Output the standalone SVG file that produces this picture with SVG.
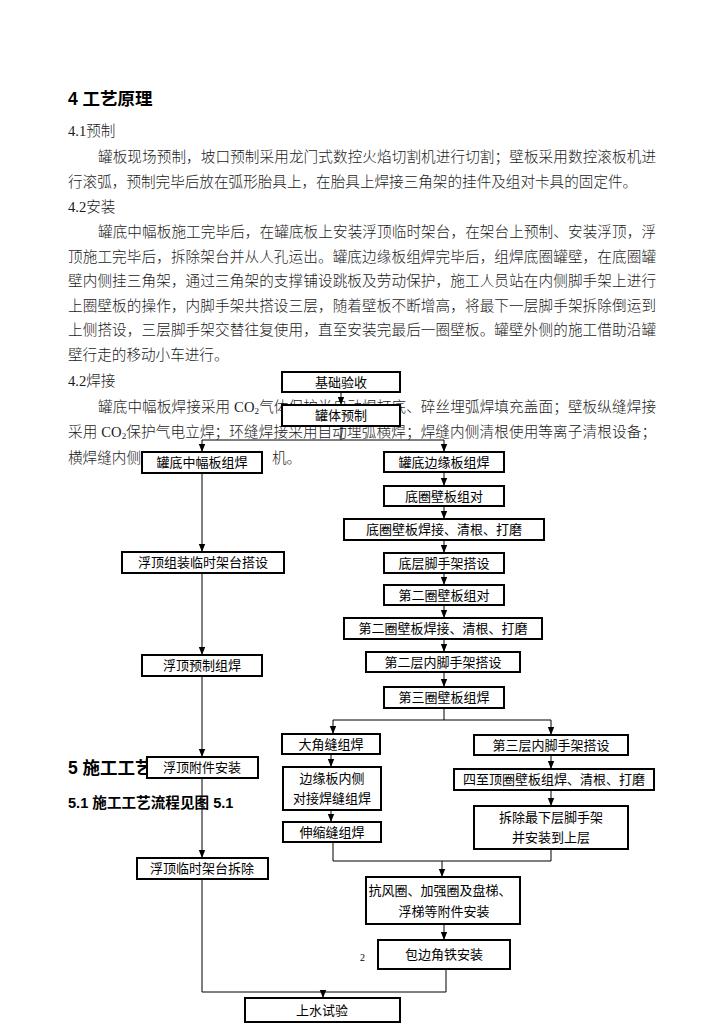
<svg xmlns="http://www.w3.org/2000/svg" width="724" height="1024" viewBox="0 0 724 1024">
<defs>
<style>
.body{font-family:"Liberation Serif","Noto Sans CJK SC",serif;font-size:14.6px;fill:#1a1a1a;font-weight:300}
.h{font-family:"Liberation Sans","Noto Sans CJK SC",sans-serif;font-weight:bold;fill:#000}
.box rect{fill:#fff;stroke:#000;stroke-width:2}
.box text{font-family:"Noto Sans CJK SC","Liberation Sans",sans-serif;font-size:13px;fill:#000;text-anchor:middle}
.conn path{fill:none;stroke:#000;stroke-width:1}
.pg{font-family:"Liberation Serif",serif;font-size:10px;fill:#000}
</style>
<marker id="arr" markerUnits="userSpaceOnUse" markerWidth="8" markerHeight="8" viewBox="0 0 8 8" refX="8" refY="4" orient="auto">
<path d="M0,0.8 L8,4 L0,7.2 Z" fill="#000"/>
</marker>
</defs>
<rect width="724" height="1024" fill="#fff"/>

<g id="text">
<text class="h" x="68" y="105" font-size="17.5">4 工艺原理</text>
<text class="body" x="68" y="136">4.1预制</text>
<text class="body" x="98" y="162" textLength="558" lengthAdjust="spacing">罐板现场预制，坡口预制采用龙门式数控火焰切割机进行切割；壁板采用数控滚板机进</text>
<text class="body" x="68" y="187">行滚弧，预制完毕后放在弧形胎具上，在胎具上焊接三角架的挂件及组对卡具的固定件。</text>
<text class="body" x="68" y="212">4.2安装</text>
<text class="body" x="98" y="237" textLength="558" lengthAdjust="spacing">罐底中幅板施工完毕后，在罐底板上安装浮顶临时架台，在架台上预制、安装浮顶，浮</text>
<text class="body" x="68" y="262" textLength="588" lengthAdjust="spacing">顶施工完毕后，拆除架台并从人孔运出。罐底边缘板组焊完毕后，组焊底圈罐壁，在底圈罐</text>
<text class="body" x="68" y="286" textLength="588" lengthAdjust="spacing">壁内侧挂三角架，通过三角架的支撑铺设跳板及劳动保护，施工人员站在内侧脚手架上进行</text>
<text class="body" x="68" y="311" textLength="588" lengthAdjust="spacing">上圈壁板的操作，内脚手架共搭设三层，随着壁板不断增高，将最下一层脚手架拆除倒运到</text>
<text class="body" x="68" y="335" textLength="588" lengthAdjust="spacing">上侧搭设，三层脚手架交替往复使用，直至安装完最后一圈壁板。罐壁外侧的施工借助沿罐</text>
<text class="body" x="68" y="360">壁行走的移动小车进行。</text>
<text class="body" x="68" y="386">4.2焊接</text>
<text class="body" x="98" y="412" textLength="558" lengthAdjust="spacing">罐底中幅板焊接采用 CO<tspan font-size="9" dy="2">2</tspan><tspan dy="-2">气体保护半自动焊打底、碎丝埋弧焊填充盖面；壁板纵缝焊接</tspan></text>
<text class="body" x="68" y="437" textLength="588" lengthAdjust="spacing">采用 CO<tspan font-size="9" dy="2">2</tspan><tspan dy="-2">保护气电立焊；环缝焊接采用自动埋弧横焊；焊缝内侧清根使用等离子清根设备；</tspan></text>
<text class="body" x="68" y="463">横焊缝内侧</text>
<text class="body" x="272" y="463">机。</text>
<text class="h" x="68" y="774" font-size="17.5">5 施工工艺</text>
<text class="h" x="68" y="808" font-size="14.6">5.1 施工工艺流程见图 5.1</text>
<text class="pg" x="360" y="961">2</text>
</g>

<g id="connectors" class="conn">
<path d="M341 392 V405" marker-end="url(#arr)"/>
<path d="M341 426 V440 M202 440 H444"/>
<path d="M202 440 V452" marker-end="url(#arr)"/>
<path d="M444 440 V452" marker-end="url(#arr)"/>
<path d="M444 472 V486" marker-end="url(#arr)"/>
<path d="M444 506 V519" marker-end="url(#arr)"/>
<path d="M444 540 V553" marker-end="url(#arr)"/>
<path d="M444 573 V585" marker-end="url(#arr)"/>
<path d="M444 605 V618" marker-end="url(#arr)"/>
<path d="M444 639 V652" marker-end="url(#arr)"/>
<path d="M444 672 V687" marker-end="url(#arr)"/>
<path d="M444 708 V720 M333 720 H551"/>
<path d="M333 720 V734" marker-end="url(#arr)"/>
<path d="M551 720 V735" marker-end="url(#arr)"/>
<path d="M331 754 V767" marker-end="url(#arr)"/>
<path d="M331 810 V822" marker-end="url(#arr)"/>
<path d="M551 755 V769" marker-end="url(#arr)"/>
<path d="M551 790 V806" marker-end="url(#arr)"/>
<path d="M333 842 V861 H551 V849"/>
<path d="M442 861 V877" marker-end="url(#arr)"/>
<path d="M444 924 V940" marker-end="url(#arr)"/>
<path d="M202 473 V552" marker-end="url(#arr)"/>
<path d="M202 573 V655" marker-end="url(#arr)"/>
<path d="M202 676 V757" marker-end="url(#arr)"/>
<path d="M202 778 V858" marker-end="url(#arr)"/>
<path d="M202 879 V992 H446 V969"/>
<path d="M323 992 V998" marker-end="url(#arr)"/>
</g>

<g id="n1" class="box"><rect x="282" y="372" width="118" height="20"/><text x="341" y="387">基础验收</text></g>
<g id="n2" class="box"><rect x="282" y="405" width="118" height="21"/><text x="341" y="420">罐体预制</text></g>
<g id="n3" class="box"><rect x="142" y="452" width="120" height="21"/><text x="202" y="467">罐底中幅板组焊</text></g>
<g id="n4" class="box"><rect x="384" y="452" width="120" height="20"/><text x="444" y="467">罐底边缘板组焊</text></g>
<g id="n5" class="box"><rect x="384" y="486" width="120" height="20"/><text x="444" y="501">底圈壁板组对</text></g>
<g id="n6" class="box"><rect x="344" y="519" width="200" height="21"/><text x="444" y="534">底圈壁板焊接、清根、打磨</text></g>
<g id="n7" class="box"><rect x="384" y="553" width="120" height="20"/><text x="444" y="568">底层脚手架搭设</text></g>
<g id="n8" class="box"><rect x="384" y="585" width="120" height="20"/><text x="444" y="600">第二圈壁板组对</text></g>
<g id="n9" class="box"><rect x="344" y="618" width="198" height="21"/><text x="443" y="633">第二圈壁板焊接、清根、打磨</text></g>
<g id="n10" class="box"><rect x="366" y="652" width="154" height="20"/><text x="443" y="667">第二层内脚手架搭设</text></g>
<g id="n11" class="box"><rect x="384" y="687" width="120" height="21"/><text x="444" y="702">第三圈壁板组焊</text></g>
<g id="n12" class="box"><rect x="282" y="734" width="98" height="20"/><text x="331" y="749">大角缝组焊</text></g>
<g id="n13" class="box"><rect x="283" y="767" width="98" height="43"/><text x="332" y="783">边缘板内侧</text><text x="332" y="803">对接焊缝组焊</text></g>
<g id="n14" class="box"><rect x="283" y="822" width="98" height="20"/><text x="332" y="837">伸缩缝组焊</text></g>
<g id="n15" class="box"><rect x="474" y="735" width="154" height="20"/><text x="551" y="750">第三层内脚手架搭设</text></g>
<g id="n16" class="box"><rect x="454" y="769" width="200" height="21"/><text x="554" y="784">四至顶圈壁板组焊、清根、打磨</text></g>
<g id="n17" class="box"><rect x="474" y="806" width="154" height="43"/><text x="551" y="822">拆除最下层脚手架</text><text x="551" y="842">并安装到上层</text></g>
<g id="n18" class="box"><rect x="366" y="877" width="154" height="47"/><text x="440" y="895">抗风圈、加强圈及盘梯、</text><text x="444" y="916">浮梯等附件安装</text></g>
<g id="n19" class="box"><rect x="378" y="940" width="132" height="29"/><text x="444" y="959">包边角铁安装</text></g>
<g id="n20" class="box"><rect x="245" y="998" width="155" height="24"/><text x="322" y="1015">上水试验</text></g>
<g id="n21" class="box"><rect x="122" y="552" width="162" height="21"/><text x="203" y="567">浮顶组装临时架台搭设</text></g>
<g id="n22" class="box"><rect x="142" y="655" width="120" height="21"/><text x="202" y="670">浮顶预制组焊</text></g>
<g id="n23" class="box"><rect x="147" y="757" width="111" height="21"/><text x="202" y="772">浮顶附件安装</text></g>
<g id="n24" class="box"><rect x="137" y="858" width="131" height="21"/><text x="202" y="873">浮顶临时架台拆除</text></g>
</svg>
